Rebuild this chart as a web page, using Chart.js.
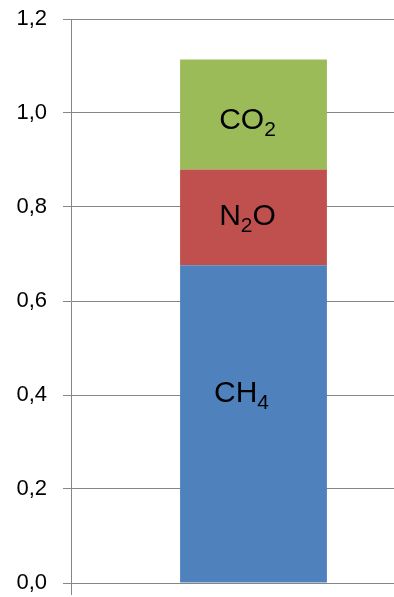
<!DOCTYPE html>
<html>
<head>
<meta charset="utf-8">
<script src="https://cdn.jsdelivr.net/npm/chart.js@4.4.1/dist/chart.umd.min.js"></script>
<style>
  html, body { margin: 0; padding: 0; background: #fff; overflow: hidden; }
  #wrap { width: 394px; height: 597px; overflow: hidden; position: relative; }
  #box { width: 436px; height: 597px; position: absolute; left: 0; top: 0; }
</style>
</head>
<body>
<div id="wrap"><div id="box"><canvas id="chart"></canvas></div></div>
<script>
const categories = [""];
const gasNames = [["CH", "4", ""], ["N", "2", "O"], ["CO", "2", ""]];
const ch4 = [0.676];
const n2o = [0.204];
const co2 = [0.234];
const yTicks = [0, 0.2, 0.4, 0.6, 0.8, 1.0, 1.2];

const gray = "#868686";

// text boxes inside the bar: [main, subscript, rest]
const gasLabels = {
  id: "gasLabels",
  afterDatasetsDraw(chart, args, opts) {
    const ctx = chart.ctx;
    const y = chart.scales.y;
    ctx.save();
    ctx.fillStyle = "#000";
    ctx.textBaseline = "alphabetic";
    chart.data.datasets.forEach((ds, i) => {
      const bar = chart.getDatasetMeta(i).data[0];
      const [a, sub, b] = gasNames[i];
      const big = "30px 'Liberation Sans', Arial, sans-serif";
      const small = "21px 'Liberation Sans', Arial, sans-serif";
      ctx.font = big;
      const wa = ctx.measureText(a).width;
      const wb = ctx.measureText(b).width;
      ctx.font = small;
      const ws = ctx.measureText(sub).width;
      let x = bar.x + opts.shift[i] - (wa + ws + wb) / 2;
      const base = y.getPixelForValue(opts.baseAt[i]);
      ctx.textAlign = "left";
      ctx.font = big;
      ctx.fillText(a, x, base);
      x += wa;
      ctx.font = small;
      ctx.fillText(sub, x, base + 7);
      x += ws;
      ctx.font = big;
      ctx.fillText(b, x, base);
    });
    ctx.restore();
  }
};

new Chart(document.getElementById("chart"), {
  type: "bar",
  data: {
    labels: categories,
    datasets: [
      { label: "CH4", data: ch4, backgroundColor: "#4F81BD" },
      { label: "N2O", data: n2o, backgroundColor: "#C0504D" },
      { label: "CO2", data: co2, backgroundColor: "#9BBB59" }
    ]
  },
  options: {
    responsive: true,
    maintainAspectRatio: false,
    animation: false,
    categoryPercentage: 0.4023,
    barPercentage: 1,
    layout: { padding: { top: 19, right: 0, left: 0, bottom: 0 } },
    plugins: {
      legend: { display: false },
      tooltip: { enabled: false },
      gasLabels: { baseAt: [0.386, 0.762, 0.965], shift: [-12, -6, -6] }
    },
    scales: {
      x: {
        stacked: true,
        grid: { offset: true, drawOnChartArea: false, drawTicks: true, tickLength: 12, color: gray, lineWidth: 1 },
        border: { display: true, color: gray, width: 1 },
        ticks: { display: true, padding: 0, font: { size: 1 } },
        afterFit(scale) { scale.height = 14; scale.paddingLeft = 0; scale.paddingRight = 0; }
      },
      y: {
        stacked: true,
        min: 0,
        max: 1.2,
        afterBuildTicks(scale) { scale.ticks = yTicks.map(v => ({ value: v })); },
        grid: { color: gray, lineWidth: 1, tickLength: 8, drawTicks: true },
        border: { display: true, color: gray, width: 1 },
        ticks: {
          padding: 16,
          color: "#000",
          font: { family: "'Liberation Sans', Arial, sans-serif", size: 22 },
          callback: v => v.toFixed(1).replace(".", ",")
        },
        afterFit(scale) { scale.width = 71; scale.paddingTop = 0; scale.paddingBottom = 0; }
      }
    }
  },
  plugins: [gasLabels]
});
</script>
</body>
</html>
